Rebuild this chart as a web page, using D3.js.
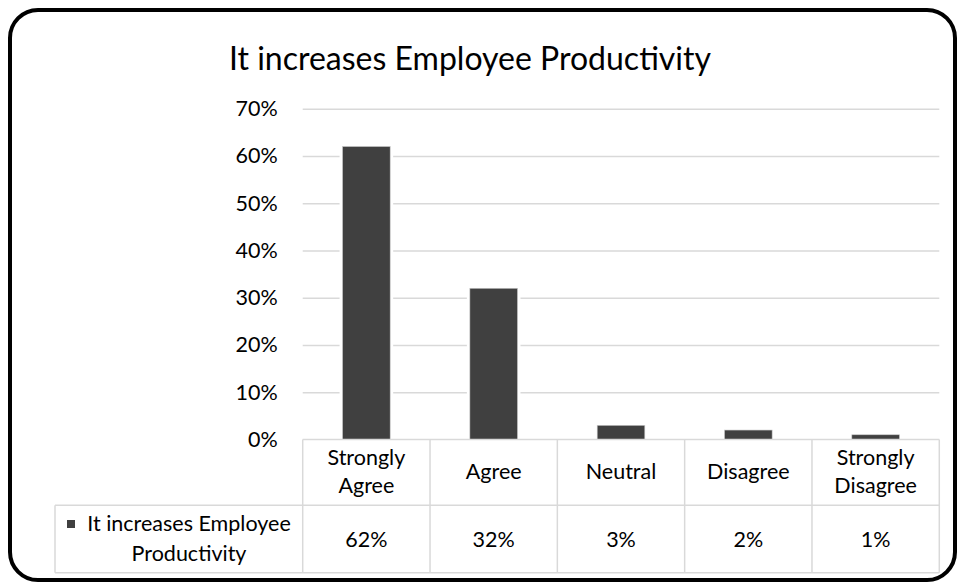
<!DOCTYPE html>
<html>
<head>
<meta charset="utf-8">
<script src="https://cdn.jsdelivr.net/npm/d3@7"></script>
<style>
  html, body { margin: 0; padding: 0; background: #fff; }
  svg { display: block; }
  text { font-family: Lato, "Open Sans", sans-serif; fill: #000; }
</style>
</head>
<body>
<svg id="chart" width="960" height="583"></svg>
<script>
// Survey responses: "It increases Employee Productivity"
const title = "It increases Employee Productivity";
const seriesName = "It increases Employee Productivity";
const categories = ["Strongly Agree", "Agree", "Neutral", "Disagree", "Strongly Disagree"];
const values = [62, 32, 3, 2, 1];
const yTicks = [0, 10, 20, 30, 40, 50, 60, 70];

const svg = d3.select("#chart");

// Layout
const plot = { left: 302.7, right: 939.3, top: 108.7, bottom: 439.5 };
const table = { left: 55, headerBottom: 505.3, bottom: 572.7 };
const barColor = "#404040";
const gridColor = "#d9d9d9";
const labelSize = "21.5px";

// Rounded outer frame
svg.append("rect")
  .attr("x", 10).attr("y", 10)
  .attr("width", 945).attr("height", 570)
  .attr("rx", 28).attr("ry", 28)
  .attr("fill", "#fff")
  .attr("stroke", "#000")
  .attr("stroke-width", 4);

// Title
svg.append("text")
  .attr("x", 470).attr("y", 70)
  .attr("text-anchor", "middle")
  .style("font-size", "32px")
  .text(title);

// Scales
const x = d3.scaleBand()
  .domain(categories)
  .range([plot.left, plot.right])
  .paddingInner(0.626)
  .paddingOuter(0.313);

const y = d3.scaleLinear()
  .domain([0, 70])
  .range([plot.bottom, plot.top]);

// Horizontal gridlines
const grid = svg.append("g")
  .attr("transform", `translate(${plot.left},0)`)
  .call(d3.axisRight(y).tickValues(yTicks.filter(t => t > 0))
    .tickSize(plot.right - plot.left).tickFormat(""));
grid.select(".domain").remove();
grid.selectAll(".tick line").attr("stroke", gridColor).attr("stroke-width", 1.5);

// Y axis labels
const yAxis = svg.append("g")
  .attr("transform", `translate(${plot.left},0)`)
  .call(d3.axisLeft(y).tickValues(yTicks).tickSize(0).tickPadding(25)
    .tickFormat(d => d + "%"));
yAxis.select(".domain").remove();
yAxis.selectAll(".tick text")
  .style("font-size", labelSize)
  .style("font-family", "Lato, 'Open Sans', sans-serif")
  .attr("fill", "#000");

// Bars with a white halo that breaks the gridlines
const bars = svg.append("g");
bars.selectAll("rect.halo")
  .data(values)
  .join("rect")
  .attr("class", "halo")
  .attr("x", (d, i) => x(categories[i]) - 3)
  .attr("width", x.bandwidth() + 6)
  .attr("y", d => y(d) - 1)
  .attr("height", d => y(0) - y(d) + 1)
  .attr("fill", "#fff");
bars.selectAll("rect.bar")
  .data(values)
  .join("rect")
  .attr("class", "bar")
  .attr("x", (d, i) => x(categories[i]))
  .attr("width", x.bandwidth())
  .attr("y", d => y(d))
  .attr("height", d => y(0) - y(d))
  .attr("fill", barColor)
  .attr("stroke", "#c8c8c8")
  .attr("stroke-width", 0.6);

// Data table
const colStep = x.step();
const colLeft = i => plot.left + i * colStep;
const tbl = svg.append("g")
  .attr("stroke", gridColor)
  .attr("stroke-width", 1.5)
  .attr("fill", "none");

// horizontal rules
tbl.append("line").attr("x1", plot.left).attr("x2", plot.right)
  .attr("y1", plot.bottom).attr("y2", plot.bottom);
tbl.append("line").attr("x1", table.left).attr("x2", plot.right)
  .attr("y1", table.headerBottom).attr("y2", table.headerBottom);
tbl.append("line").attr("x1", table.left).attr("x2", plot.right)
  .attr("y1", table.bottom).attr("y2", table.bottom);
// vertical rules
tbl.append("line").attr("x1", table.left).attr("x2", table.left)
  .attr("y1", table.headerBottom).attr("y2", table.bottom);
d3.range(categories.length + 1).forEach(i => {
  tbl.append("line")
    .attr("x1", colLeft(i)).attr("x2", colLeft(i))
    .attr("y1", plot.bottom).attr("y2", table.bottom);
});

// Category header cells
const header = svg.append("g");
categories.forEach((c, i) => {
  const cx = x(c) + x.bandwidth() / 2;
  const words = c.includes(" ") ? c.split(" ") : [c];
  const lineH = 28;
  const mid = (plot.bottom + table.headerBottom) / 2 + 7;
  words.forEach((w, j) => {
    header.append("text")
      .attr("x", cx)
      .attr("y", mid + (j - (words.length - 1) / 2) * lineH)
      .attr("text-anchor", "middle")
      .style("font-size", labelSize)
      .text(w);
  });
});

// Value row
const valueRow = svg.append("g");
values.forEach((v, i) => {
  valueRow.append("text")
    .attr("x", x(categories[i]) + x.bandwidth() / 2)
    .attr("y", 547)
    .attr("text-anchor", "middle")
    .style("font-size", labelSize)
    .text(v + "%");
});

// Series label with legend key
const legend = svg.append("g");
const legendLines = ["It increases Employee", "Productivity"];
const legendCx = 189;
legendLines.forEach((t, j) => {
  legend.append("text")
    .attr("x", legendCx)
    .attr("y", 531 + j * 30)
    .attr("text-anchor", "middle")
    .style("font-size", labelSize)
    .text(t);
});
legend.append("rect")
  .attr("x", 67).attr("y", 520)
  .attr("width", 8).attr("height", 8)
  .attr("fill", barColor);
</script>
</body>
</html>
